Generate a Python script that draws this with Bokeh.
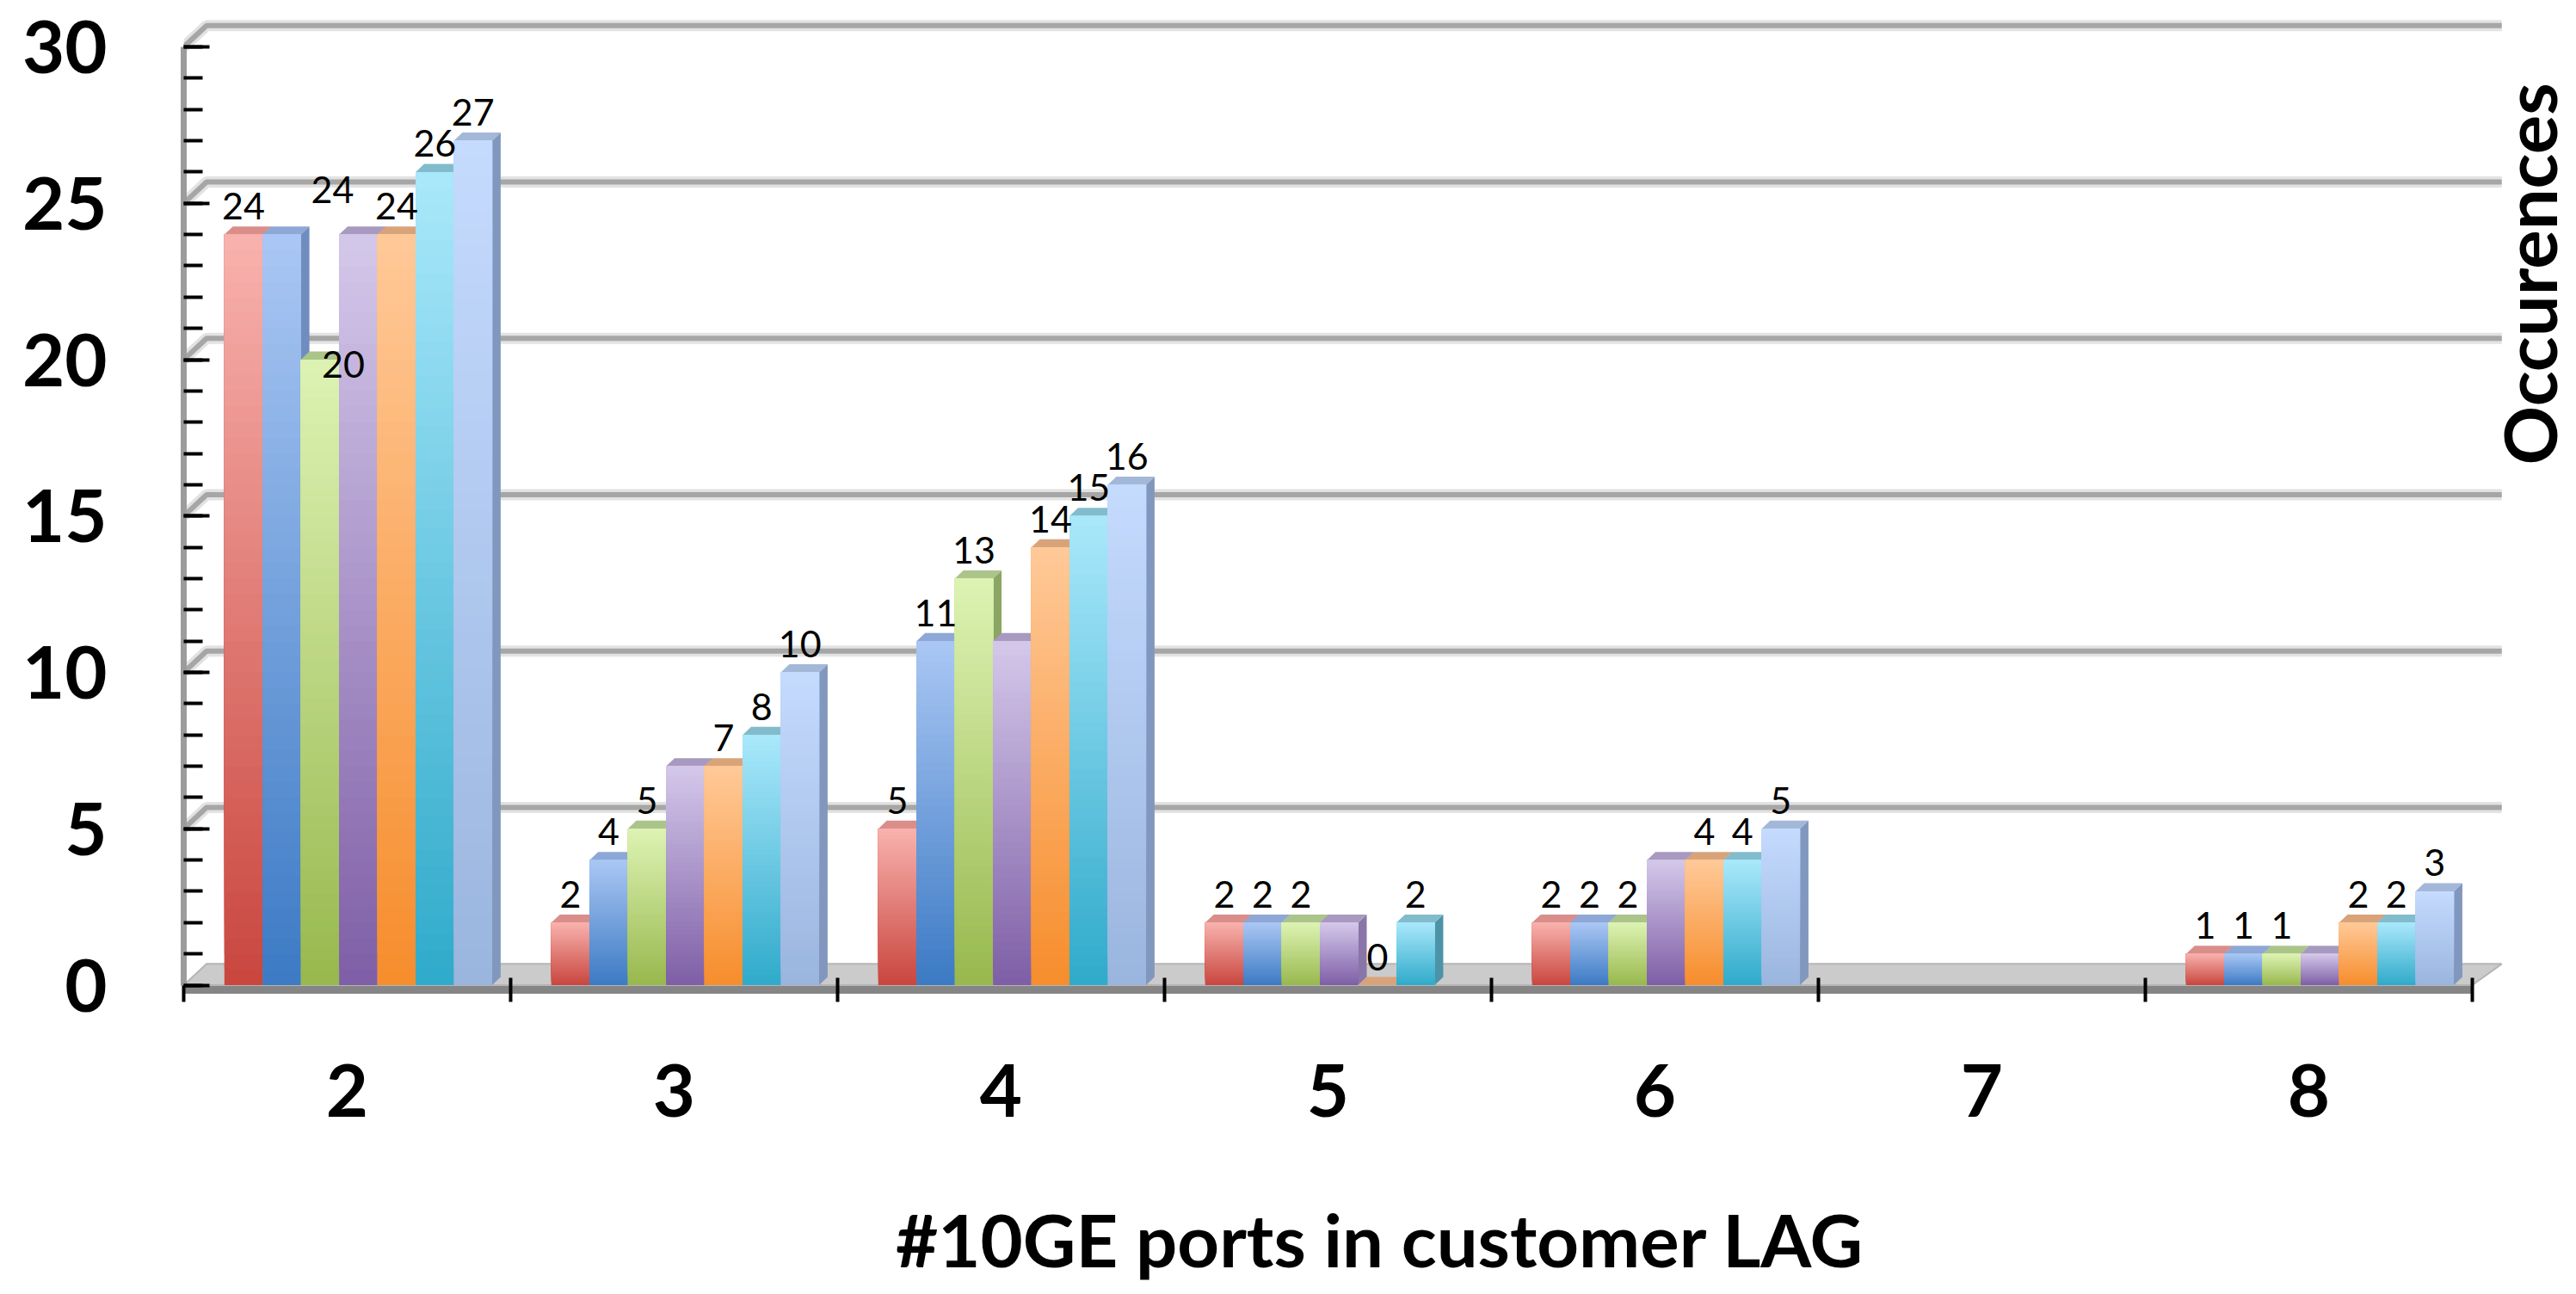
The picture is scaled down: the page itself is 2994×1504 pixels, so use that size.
import math
from bokeh.plotting import figure
from bokeh.models import FixedTicker, Range1d, CustomJSTickFormatter
from bokeh.core.properties import value
from bokeh.embed import file_html
from bokeh.resources import INLINE

# ---------------- data ----------------
categories = ["2", "3", "4", "5", "6", "7", "8"]
red_series = [24, 2, 5, 2, 2, None, 1]
blue_series = [24, 4, 11, 2, 2, None, 1]
green_series = [20, 5, 13, 2, 2, None, 1]
purple_series = [24, 7, 11, 2, 4, None, 1]
orange_series = [24, 7, 14, 0, 4, None, 2]
cyan_series = [26, 8, 15, 2, 4, None, 2]
lightblue_series = [27, 10, 16, None, 5, None, 3]
y_ticks = [0, 5, 10, 15, 20, 25, 30]
x_title = "#10GE ports in customer LAG"
y_title = "Occurences"

series = [red_series, blue_series, green_series, purple_series,
          orange_series, cyan_series, lightblue_series]

# ---------------- style ----------------
front_top = ["#F8B2AE", "#AAC7F4", "#DDF3B4", "#D4C8EA", "#FFC998", "#AAE8FB", "#C5DBFE"]
front_bot = ["#C9463E", "#3C7AC4", "#98B84D", "#7E5EA6", "#F68D2C", "#2FAACA", "#9AB5DE"]
cap_col = ["#D98E8A", "#8DA7D6", "#ABC48A", "#A899C0", "#D9A37A", "#82BCCC", "#A3B8D8"]
side_col = ["#B06A66", "#6F8DBE", "#8AA564", "#8A75A8", "#C98A55", "#4D93A8", "#8197BD"]
show_label = [True, True, True, False, True, True, True]
label_shift = {(1, 0): (59, -19), (2, 0): (27, 38)}
FONT = "Lato"


def mix(c1, c2, t):
    a = [int(c1[i:i + 2], 16) for i in (1, 3, 5)]
    b = [int(c2[i:i + 2], 16) for i in (1, 3, 5)]
    return "#%02x%02x%02x" % tuple(round(a[k] + (b[k] - a[k]) * t) for k in range(3))


W, H = 2994, 1504
LEFT, BOTTOM = 213, 354
px_x = 380.0
x_end = -0.5 + (W - LEFT) / px_x
y_start = -0.15
px_y = (H - BOTTOM - 54) / (y_ticks[-1] - y_start)
y_end = y_ticks[-1] + 54 / px_y

p = figure(width=W, height=H, output_backend="svg", toolbar_location=None,
           x_range=Range1d(-0.5, x_end), y_range=Range1d(y_start, y_end),
           min_border_left=LEFT, min_border_right=0, min_border_top=0,
           min_border_bottom=BOTTOM)
p.outline_line_color = None
p.xgrid.visible = False
p.ygrid.visible = False
p.background_fill_color = "white"
p.border_fill_color = "white"

ncat = len(categories)
nser = len(series)
bw = 0.117
goff = 0.034
d3x, d3y = 0.026, 0.26
dxg, dyg, dxr = 0.07, 0.68, 0.09
left_x = -0.5
right_x = ncat - 0.5

# back wall gridlines (3D offset)
gx, gy = [], []
for v in y_ticks[1:]:
    gx.append([left_x, left_x + dxg, right_x + dxr])
    gy.append([v, v + dyg, v + dyg])
p.multi_line(xs=gx, ys=gy, line_color="#E2E2E2", line_width=13)
p.multi_line(xs=gx, ys=gy, line_color="#A6A6A6", line_width=6)

# floor
p.patch(x=[left_x, right_x, right_x + dxr, left_x + dxg],
        y=[0, 0, dyg, dyg], fill_color="#CBCBCB", line_color="#B5B5B5", line_width=2)

# bars (3D)
NB = 48
for j, s in enumerate(series):
    idx = [i for i, v in enumerate(s) if v is not None]
    if not idx:
        continue
    xc = [i + goff + (j - (nser - 1) / 2) * bw for i in idx]
    vals = [s[i] for i in idx]
    xl = [x - bw / 2 for x in xc]
    xr = [x + bw / 2 for x in xc]
    p.patches(xs=[[r, r + d3x, r + d3x, r] for r in xr],
              ys=[[0, d3y, v + d3y, v] for v in vals],
              fill_color=side_col[j], line_color=None)
    p.patches(xs=[[l, l + d3x, r + d3x, r] for l, r in zip(xl, xr)],
              ys=[[v, v + d3y, v + d3y, v] for v in vals],
              fill_color=cap_col[j], line_color=None)
    bx, bb, bt, bc = [], [], [], []
    for x, v in zip(xc, vals):
        if v <= 0:
            continue
        for k in range(NB):
            bx.append(x)
            bb.append(v * k / NB)
            bt.append(v)
            bc.append(mix(front_bot[j], front_top[j], (k + 0.5) / NB))
    p.vbar(x=bx, bottom=bb, top=bt, width=bw, fill_color=bc, line_color=None)

# data labels
for j, s in enumerate(series):
    if not show_label[j]:
        continue
    lx, ly, lt, ox, oy = [], [], [], [], []
    for i, v in enumerate(s):
        if v is None:
            continue
        sh = label_shift.get((j, i), (0, 0))
        lx.append(i + goff + (j - (nser - 1) / 2) * bw)
        ly.append(v)
        lt.append(str(v))
        ox.append(sh[0])
        oy.append(-33 + sh[1])
    p.text(x=lx, y=ly, text=lt, x_offset=ox, y_offset=oy,
           text_align="center", text_baseline="alphabetic",
           text_font=value(FONT), text_font_size=value("43px"), text_color="black")

# right-side vertical title
p.text(x=[x_end - (W - 2938) / px_x], y=[(H - BOTTOM - 318) / px_y + y_start],
       text=[y_title], angle=math.pi / 2, text_align="center", text_baseline="middle",
       text_font=value(FONT), text_font_size=value("85px"), text_font_style="bold",
       text_color="black")

# y axis
ya = p.yaxis[0]
ya.ticker = FixedTicker(ticks=y_ticks, minor_ticks=list(range(y_ticks[0], y_ticks[-1] + 1)))
ya.bounds = (y_ticks[0], y_ticks[-1])
ya.axis_line_color = "#9C9C9C"
ya.axis_line_width = 7
ya.major_tick_in = 30
ya.major_tick_out = 0
ya.minor_tick_in = 22
ya.minor_tick_out = 0
ya.major_tick_line_color = "black"
ya.major_tick_line_width = 4
ya.minor_tick_line_color = "black"
ya.minor_tick_line_width = 4
ya.major_label_text_font = FONT
ya.major_label_text_font_size = "85px"
ya.major_label_text_font_style = "bold"
ya.major_label_text_color = "black"
ya.major_label_standoff = 89

# x axis
xa = p.xaxis[0]
xa.ticker = FixedTicker(ticks=list(range(ncat)), minor_ticks=[i - 0.5 for i in range(ncat + 1)])
xa.formatter = CustomJSTickFormatter(args=dict(labels=categories),
                                     code="const i = Math.round(tick); return (i >= 0 && i < labels.length) ? labels[i] : '';")
xa.bounds = (left_x, right_x)
xa.axis_line_color = "#858585"
xa.axis_line_width = 9
xa.major_tick_line_color = None
xa.major_tick_in = 0
xa.major_tick_out = 0
xa.minor_tick_in = 14
xa.minor_tick_out = 14
xa.minor_tick_line_color = "black"
xa.minor_tick_line_width = 4
xa.major_label_text_font = FONT
xa.major_label_text_font_size = "85px"
xa.major_label_text_font_style = "bold"
xa.major_label_text_color = "black"
xa.major_label_standoff = 72
xa.axis_label = x_title
xa.axis_label_text_font = FONT
xa.axis_label_text_font_size = "85px"
xa.axis_label_text_font_style = "bold"
xa.axis_label_text_color = "black"
xa.axis_label_standoff = 88

open("out.html", "w").write(file_html(p, INLINE))
